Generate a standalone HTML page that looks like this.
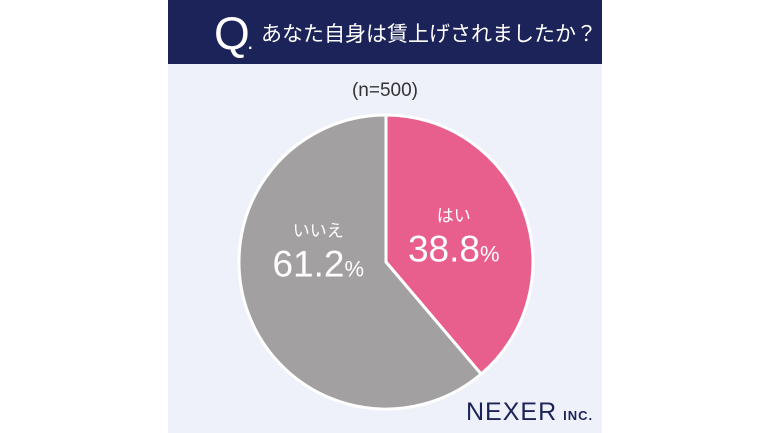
<!DOCTYPE html>
<html><head><meta charset="utf-8"><style>
body{margin:0;width:770px;height:433px;background:#fff;overflow:hidden;font-family:"Liberation Sans","Noto Sans CJK JP",sans-serif}
#panel{position:absolute;left:168px;top:0;width:434px;height:433px;background:#eef0fa}
#hdr{position:absolute;left:0;top:0;width:434px;height:64px;background:#1c2358;color:#fff}
</style></head><body>
<div id="panel">
<div id="hdr">
<span style="position:absolute;left:46px;top:6px;font-size:46px">Q</span>
<span style="position:absolute;left:80px;top:36px;font-size:16px;font-weight:bold">.</span>
<span style="position:absolute;left:93px;top:18px;font-size:21px">あなた自身は賃上げされましたか？</span>
</div>
<div style="position:absolute;left:0;width:434px;top:80px;text-align:center;font-size:19px;color:#333">(n=500)</div>
</div>
<svg id="pie" width="770" height="433" style="position:absolute;left:0;top:0"></svg>
<div style="position:absolute;left:466px;top:398px;font-size:25px;color:#1c2358;letter-spacing:1px">NEXER<span style="font-size:13px;font-weight:bold;margin-left:6px">INC.</span></div>
<script>
const categories=["はい","いいえ"];
const values=[38.8,61.2];
const colors=["#e85f8d","#a2a0a1"];
const svg=document.getElementById('pie');
const NS="http://www.w3.org/2000/svg";
const cx=386,cy=262,r=147;
const total=values.reduce((a,b)=>a+b,0);
function pt(f,rad){const a=f*2*Math.PI;return [cx+rad*Math.sin(a),cy-rad*Math.cos(a)];}
let acc=0;
const offs=[[-4,6],[4,-32]];
values.forEach((v,i)=>{
  const f0=acc/total,f1=(acc+v)/total;acc+=v;
  const [x0,y0]=pt(f0,r),[x1,y1]=pt(f1,r);
  const p=document.createElementNS(NS,'path');
  p.setAttribute('d',`M${cx},${cy}L${x0},${y0}A${r},${r} 0 ${f1-f0>0.5?1:0} 1 ${x1},${y1}Z`);
  p.setAttribute('fill',colors[i]);p.setAttribute('stroke','#fff');p.setAttribute('stroke-width','3');p.setAttribute('stroke-linejoin','round');
  
  
  svg.appendChild(p);
  const fm=(f0+f1)/2;let [lx,ly]=pt(fm,r*0.52);lx+=offs[i][0];ly+=offs[i][1];
  const t1=document.createElementNS(NS,'text');
  t1.setAttribute('x',lx);t1.setAttribute('y',ly-20);t1.setAttribute('text-anchor','middle');
  t1.setAttribute('fill','#fff');t1.setAttribute('font-size','17');t1.textContent=categories[i];
  
  
  svg.appendChild(t1);
  const t2=document.createElementNS(NS,'text');
  t2.setAttribute('x',lx);t2.setAttribute('y',ly+20);t2.setAttribute('text-anchor','middle');
  t2.setAttribute('fill','#fff');t2.setAttribute('font-size','37');
  t2.innerHTML=v.toFixed(1)+'<tspan font-size="22">%</tspan>';
  
  
  svg.appendChild(t2);
});
</script>
</body></html>
